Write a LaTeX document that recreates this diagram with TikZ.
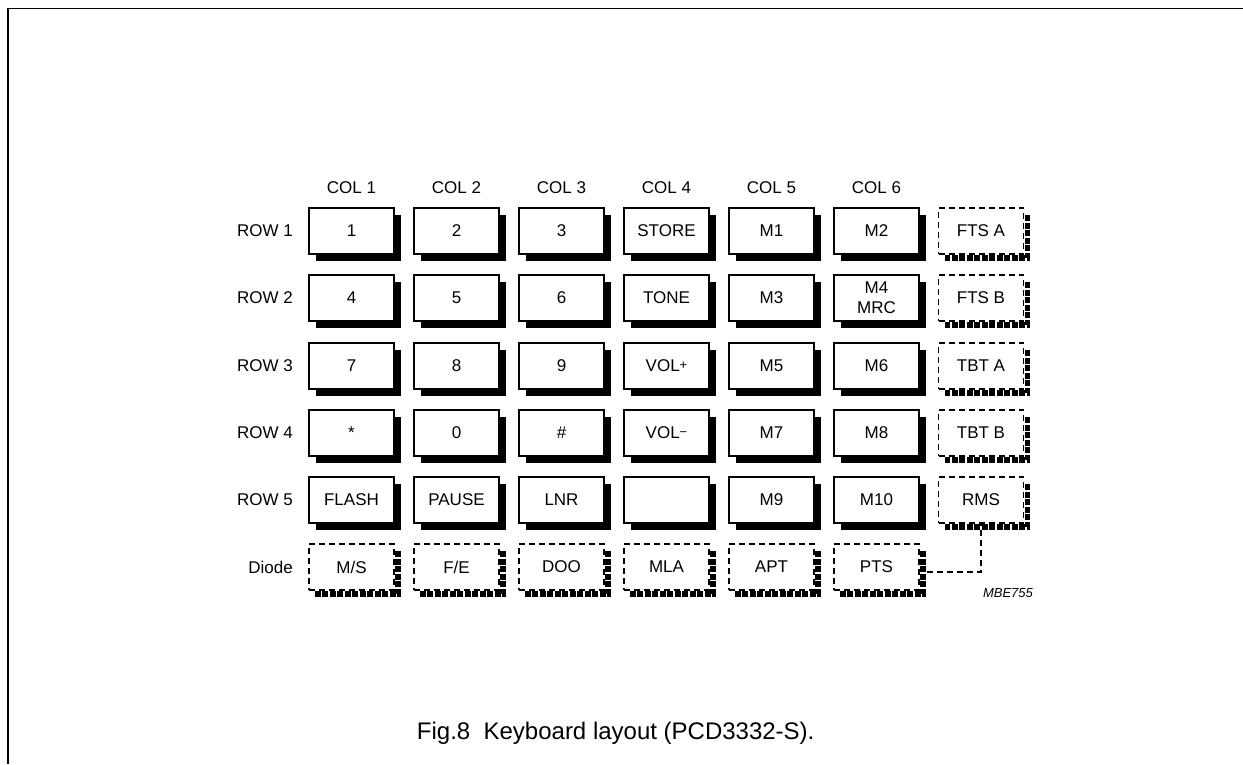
\documentclass[tikz,border=0pt]{standalone}
\usepackage{fontspec}
\setmainfont{Liberation Sans}
\usetikzlibrary{shadows}
\usetikzlibrary{calc}

\newcommand{\keyfont}{\fontsize{17}{19}\selectfont}
\newcommand{\signfont}{\fontsize{13}{13}\selectfont}
\tikzset{
	keybox/.style={draw, fill=white, line width=1.1pt, minimum width=85pt, minimum height=46pt, inner sep=0pt, align=center, font=\keyfont},
	dshadow/.style={line width=5.5pt, dash pattern=on 6pt off 1.5pt},
	wire/.style={line width=1.1pt, dash pattern=on 6pt off 4pt},
	label/.style={font=\keyfont, inner sep=0pt}
}
\newcommand{\solidkey}[4] % name, x, y, text
{
	% key with solid shadow
	\node[keybox, drop shadow={shadow xshift=7pt, shadow yshift=-7pt, opacity=1, fill=black}] (#1) at (#2,#3) {#4};
}
\newcommand{\dashkey}[4] % name, x, y, text
{
	% dashed key
	\node[keybox, dash pattern=on 6pt off 4pt] (#1) at (#2,#3) {#4};
	% dashed shadow
	\draw[dshadow] ([shift={(3.5pt,-8pt)}]#1.north east) -- ([shift={(3.5pt,-3.5pt)}]#1.south east) -- ([shift={(7pt,-3.5pt)}]#1.south west);
}

\begin{document}
\begin{tikzpicture}[x=1pt, y=-1pt]
	% 1243 x 764, origin top left
	\useasboundingbox (0,0) rectangle (1243,764);
	\draw[line width=1.6pt] (8,764) -- (8,8.5) -- (1243,8.5);
	
	% column headings
	\node[label] (col1) at (351.5,188) {COL 1};
	\node[label] (col2) at (456.5,188) {COL 2};
	\node[label] (col3) at (561.5,188) {COL 3};
	\node[label] (col4) at (666.5,188) {COL 4};
	\node[label] (col5) at (771.5,188) {COL 5};
	\node[label] (col6) at (876.5,188) {COL 6};
	
	% row headings
	\node[label, anchor=east] (row1) at (293,231) {ROW 1};
	\node[label, anchor=east] (row2) at (293,298) {ROW 2};
	\node[label, anchor=east] (row3) at (293,366) {ROW 3};
	\node[label, anchor=east] (row4) at (293,433) {ROW 4};
	\node[label, anchor=east] (row5) at (293,500) {ROW 5};
	\node[label, anchor=east] (diode) at (293,567) {Diode};
	
	% link RMS - PTS
	\draw[wire] (981,500) -- (981,572) -- (924,572);
	
	\solidkey{k1}{351.5}{231}{1};
	\solidkey{k2}{456.5}{231}{2};
	\solidkey{k3}{561.5}{231}{3};
	\solidkey{store}{666.5}{231}{STORE};
	\solidkey{m1}{771.5}{231}{M1};
	\solidkey{m2}{876.5}{231}{M2};
	\dashkey{ftsa}{981}{231}{FTS A};
	
	\solidkey{k4}{351.5}{298}{4};
	\solidkey{k5}{456.5}{298}{5};
	\solidkey{k6}{561.5}{298}{6};
	\solidkey{tone}{666.5}{298}{TONE};
	\solidkey{m3}{771.5}{298}{M3};
	\solidkey{m4}{876.5}{298}{M4\\[1pt]MRC};
	\dashkey{ftsb}{981}{298}{FTS B};
	
	\solidkey{k7}{351.5}{366}{7};
	\solidkey{k8}{456.5}{366}{8};
	\solidkey{k9}{561.5}{366}{9};
	\solidkey{volup}{666.5}{366}{VOL\raisebox{2pt}{\signfont +}};
	\solidkey{m5}{771.5}{366}{M5};
	\solidkey{m6}{876.5}{366}{M6};
	\dashkey{tbta}{981}{366}{TBT A};
	
	\solidkey{star}{351.5}{433}{*};
	\solidkey{k0}{456.5}{433}{0};
	\solidkey{hash}{561.5}{433}{\#};
	\solidkey{voldn}{666.5}{433}{VOL\raisebox{2pt}{\signfont \textminus}};
	\solidkey{m7}{771.5}{433}{M7};
	\solidkey{m8}{876.5}{433}{M8};
	\dashkey{tbtb}{981}{433}{TBT B};
	
	\solidkey{flash}{351.5}{500}{FLASH};
	\solidkey{pause}{456.5}{500}{PAUSE};
	\solidkey{lnr}{561.5}{500}{LNR};
	\solidkey{blank}{666.5}{500}{};
	\solidkey{m9}{771.5}{500}{M9};
	\solidkey{m10}{876.5}{500}{M10};
	\dashkey{rms}{981}{500}{RMS};
	
	\dashkey{ms}{351.5}{567}{M/S};
	\dashkey{fe}{456.5}{567}{F/E};
	\dashkey{doo}{561.5}{567}{DOO};
	\dashkey{mla}{666.5}{567}{MLA};
	\dashkey{apt}{771.5}{567}{APT};
	\dashkey{pts}{876.5}{567}{PTS};
	
	\node[font=\fontsize{13}{15}\selectfont\itshape] (code) at (1008,593) {MBE755};
	\node[font=\fontsize{24}{28}\selectfont, anchor=base east] (caption) at (818,739) {Fig.8\ \ Keyboard layout (PCD3332-S).};
\end{tikzpicture}
\end{document}
